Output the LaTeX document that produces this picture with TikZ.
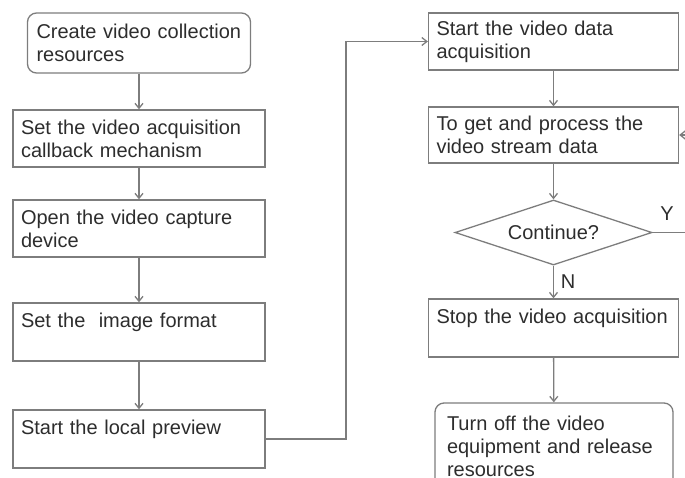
\documentclass[tikz,border=0pt]{standalone}
\usepackage{fontspec}
\setmainfont{Liberation Sans}
\usetikzlibrary{positioning, arrows.meta, shapes.geometric}
\definecolor{linegray}{RGB}{125,125,125}
\definecolor{textgray}{RGB}{45,45,45}

\begin{document}
\begin{tikzpicture}[x=1pt, y=-1pt, >={Straight Barb[length=5pt,width=8pt]},
      font=\fontsize{20}{23}\selectfont,
      box/.style={draw=linegray, line width=1.3pt, text=textgray, align=left,
                  inner xsep=8pt, inner ysep=4pt, minimum height=57pt},
      endbox/.style={box, rounded corners=9pt},
      dec/.style={draw=linegray, line width=1.3pt, diamond, aspect=3,
                  text=textgray, inner sep=0pt,
                  minimum width=197pt, minimum height=65pt},
      flow/.style={draw=linegray, ->, line width=1.3pt},
      lbl/.style={text=textgray}]
    \useasboundingbox (0,0) rectangle (685,477);
    \clip (0,0) rectangle (685,477);
    % left column
    \node[endbox, text width=205pt, inner xsep=9pt, minimum height=60pt] (create) at (139,43)
        {Create video collection\\resources};
    \node[box, text width=236pt] (callback) at (139,138.5)
        {Set the video acquisition\\callback mechanism};
    \node[box, text width=236pt] (opendev) at (139,228.5)
        {Open the video capture\\device};
    \node[box, text width=236pt, minimum height=58pt] (format) at (139,332)
        {Set the~ image format\\\mbox{}};
    \node[box, text width=236pt, minimum height=58pt] (preview) at (139,439)
        {Start the local preview\\\mbox{}};
    % right column
    \node[box, text width=234pt] (startacq) at (553.5,41.5)
        {Start the video data\\acquisition};
    \node[box, text width=234pt, minimum height=56pt] (stream) at (553.5,135)
        {To get and process the\\video stream data};
    \node[dec] (cont) at (553.5,232.5) {Continue?};
    \node[box, text width=234pt, minimum height=58pt] (stopacq) at (553.5,328)
        {Stop the video acquisition\\\mbox{}};
    \node[endbox, text width=214pt, inner xsep=12pt, minimum height=87pt] (release) at (554,446.5)
        {Turn off the video\\equipment and release\\resources};
    \node[lbl] (ylab) at (667,214) {Y};
    \node[lbl] (nlab) at (568,282) {N};
    \coordinate (up) at (346,41.5);
    \coordinate (loop) at (700,232.5);
    % connectors
    \draw[flow] (create) -- (callback);
    \draw[flow] (callback) -- (opendev);
    \draw[flow] (opendev) -- (format);
    \draw[flow] (format) -- (preview);
    \draw[flow] (preview.east) -| (up) -- (startacq.west);
    \draw[flow] (startacq) -- (stream);
    \draw[flow] (stream) -- (cont);
    \draw[flow] (cont) -- (stopacq);
    \draw[flow] (stopacq) -- (release);
    \draw[flow] (cont.east) -- (loop) |- (stream.east);
  \end{tikzpicture}
\end{document}
